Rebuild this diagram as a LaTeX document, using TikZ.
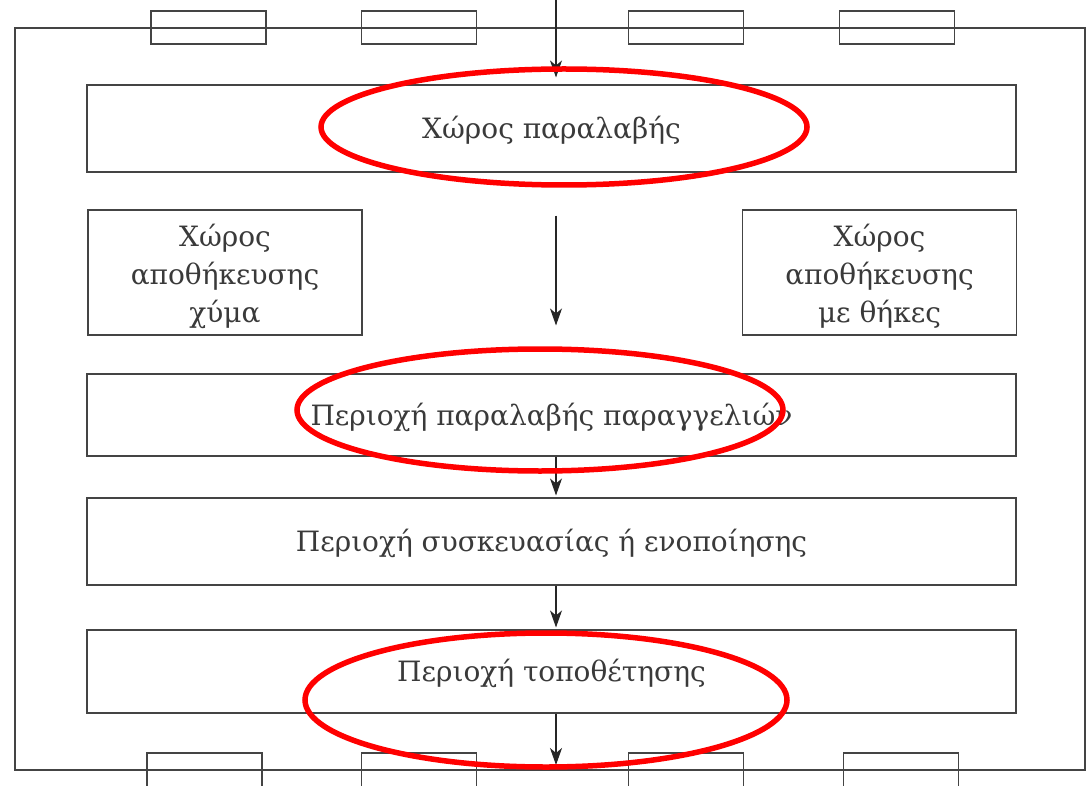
\documentclass[tikz,border=0pt]{standalone}
\usepackage{fontspec}
\setmainfont{DejaVu Serif}
\usetikzlibrary{arrows.meta}
\definecolor{boxgray}{HTML}{444444}
\definecolor{textgray}{HTML}{3A3A3A}
\definecolor{markred}{HTML}{FF0000}
\newcommand{\sidelines}[1]{\raisebox{-4pt}[\height][\depth]{\begin{tabular}{@{}c@{}}#1\end{tabular}}}
\newcommand{\oneline}[1]{\raisebox{-2pt}[\height][\depth]{#1}}
\begin{document}
\begin{tikzpicture}[x=1pt,y=-1pt,
  area/.style={draw=boxgray, line width=1.1pt, rectangle, inner sep=0pt,
    minimum width=929pt, text=textgray, font=\fontsize{28}{38}\selectfont},
  side/.style={draw=boxgray, line width=1.1pt, rectangle, inner sep=0pt,
    minimum width=274pt, minimum height=125pt, align=center, text=textgray,
    font=\fontsize{28}{38}\selectfont},
  dock/.style={draw=boxgray, line width=1.1pt, rectangle, inner sep=0pt,
    minimum width=115pt, minimum height=33pt},
  flow/.style={draw=black!85, line width=1.1pt, -{Stealth[length=17pt,width=12pt,inset=5pt]}},
  redring/.style={draw=markred, line width=5.5pt}
  ]
\useasboundingbox (0,0) rectangle (1089,786);
\fill[white] (0,0) rectangle (1089,786);
% outer frame
\draw[boxgray, line width=1.1pt] (15,28) rectangle (1085,770);
% docks top
\node[dock] (t1) at (208.5,27.5) {};
\node[dock] (t2) at (419,27.5) {};
\node[dock] (t3) at (686,27.5) {};
\node[dock] (t4) at (897,27.5) {};
% docks bottom
\node[dock, minimum height=50pt] (d1) at (204.5,778) {};
\node[dock, minimum height=50pt] (d2) at (419,778) {};
\node[dock, minimum height=50pt] (d3) at (686,778) {};
\node[dock, minimum height=50pt] (d4) at (901,778) {};
% areas
\node[area, minimum height=87pt] (b1) at (551.5,128.5) {\oneline{Χώρος παραλαβής}};
\node[side] (sl) at (225,272.5) {\sidelines{Χώρος\\αποθήκευσης\\χύμα}};
\node[side] (sr) at (879.5,272.5) {\sidelines{Χώρος\\αποθήκευσης\\με θήκες}};
\node[area, minimum height=82pt] (b3) at (551.5,415) {\oneline{Περιοχή παραλαβής παραγγελιών}};
\node[area, minimum height=87pt] (b4) at (551.5,541.5) {\oneline{Περιοχή συσκευασίας ή ενοποίησης}};
\node[area, minimum height=83pt] (b5) at (551.5,671.5) {\oneline{Περιοχή τοποθέτησης}};
% arrows
\coordinate (ax) at (556,0);
\coordinate (bot) at (556,770);
\draw[flow, shorten >=7pt] (ax) -- (b1.north -| ax);
\draw[flow, shorten <=43pt, shorten >=48pt] (b1.south -| ax) -- (b3.north -| ax);
\draw[flow, shorten >=2pt] (b3.south -| ax) -- (b4.north -| ax);
\draw[flow, shorten >=2pt] (b4.south -| ax) -- (b5.north -| ax);
\draw[flow, shorten >=5pt] (b5.south -| ax) -- (bot);
% red marks
\draw[redring] (564,127) ellipse [x radius=243, y radius=58];
\draw[redring] (540,410) ellipse [x radius=243, y radius=61];
\draw[redring] (546,700) ellipse [x radius=241, y radius=67];
\end{tikzpicture}
\end{document}
